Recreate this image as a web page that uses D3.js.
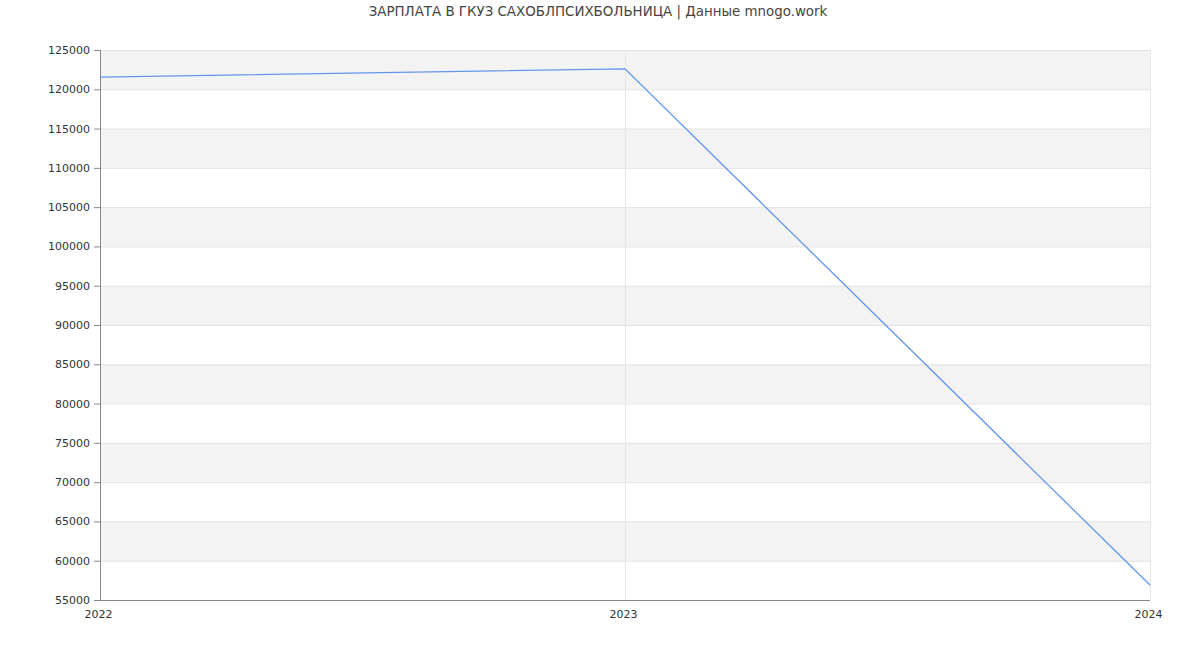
<!DOCTYPE html>
<html><head><meta charset="utf-8">
<script src="https://cdn.jsdelivr.net/npm/d3@7"></script>
<style>body{margin:0;background:#fff;font-family:"DejaVu Sans",sans-serif;}</style>
</head><body>
<svg id="c" width="1200" height="650"></svg>
<script>
const years = [2022, 2023, 2024];
const salaries = [121550, 122600, 56900];
const yTicks = [55000,60000,65000,70000,75000,80000,85000,90000,95000,100000,105000,110000,115000,120000,125000];
const title = "ЗАРПЛАТА В ГКУЗ САХОБЛПСИХБОЛЬНИЦА | Данные mnogo.work";

const svg = d3.select("#c");
const m = {l:100, r:1150, t:50, b:600};
const x = d3.scaleLinear().domain([2022, 2024]).range([m.l, m.r]);
const y = d3.scaleLinear().domain([55000, 125000]).range([m.b, m.t]);

// bands
for (let i = 0; i < yTicks.length - 1; i++) {
  const lo = yTicks[i], hi = yTicks[i+1];
  svg.append("rect").attr("x", m.l).attr("width", m.r - m.l)
    .attr("y", y(hi)).attr("height", y(lo) - y(hi))
    .attr("fill", (lo % 10000 === 0) ? "#f3f3f3" : "#ffffff");
}
// horizontal grid
yTicks.forEach(t => {
  svg.append("line").attr("x1", m.l).attr("x2", m.r).attr("y1", y(t)+0.5).attr("y2", y(t)+0.5)
    .attr("stroke", "#e2e2e2").attr("stroke-width", 1);
});
// vertical grid
years.forEach(yr => {
  svg.append("line").attr("x1", x(yr)+0.5).attr("x2", x(yr)+0.5).attr("y1", m.t).attr("y2", m.b)
    .attr("stroke", "#e6e6e6").attr("stroke-width", 1);
});

// axes
const yAxis = d3.axisLeft(y).tickValues(yTicks).tickSize(6).tickPadding(4).tickFormat(d3.format("d"));
const gy = svg.append("g").attr("transform", `translate(${m.l},0)`).call(yAxis);
gy.selectAll("text").attr("font-size", 11).attr("fill", "#333").attr("font-family", "DejaVu Sans, sans-serif");
gy.selectAll("line, path").attr("stroke", "#888");
gy.select(".domain").attr("d", `M0.5,${m.t}V${m.b}`);

const xAxis = d3.axisBottom(x).tickValues(years).tickSize(0).tickPadding(10).tickFormat(d3.format("d"));
const gx = svg.append("g").attr("transform", `translate(0,${m.b})`).call(xAxis);
gx.selectAll("text").attr("font-size", 11).attr("fill", "#333").attr("font-family", "DejaVu Sans, sans-serif").attr("dx", -2);
gx.select(".domain").attr("stroke", "#888").attr("d", `M${m.l},0.5H${m.r}`);

// line
const line = d3.line().x((d,i) => x(years[i])).y(d => y(d));
svg.append("path").datum(salaries).attr("d", line)
  .attr("fill", "none").attr("stroke", "#6495ed").attr("stroke-width", 1.3);

// title
svg.append("text").attr("x", 598).attr("y", 16).attr("text-anchor", "middle")
  .attr("font-size", 13.4).attr("fill", "#444").attr("font-family", "DejaVu Sans, sans-serif").text(title);
</script>
</body></html>
